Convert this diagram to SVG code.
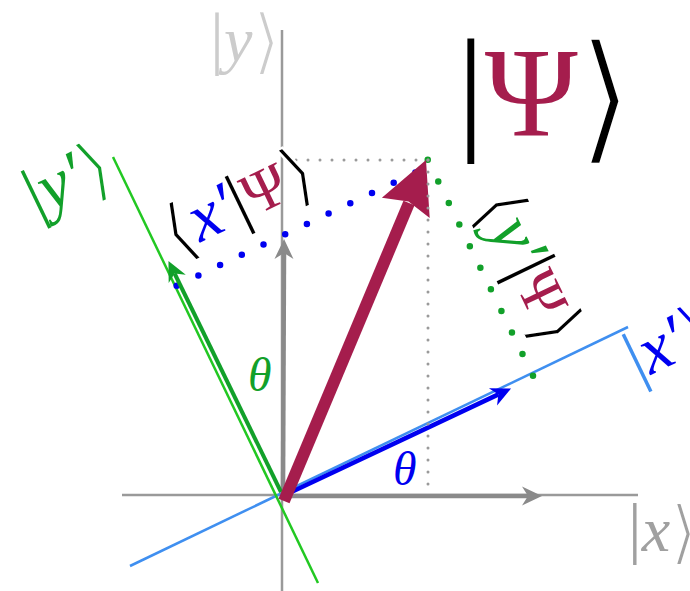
<svg xmlns="http://www.w3.org/2000/svg" width="690" height="591" viewBox="0 0 690 591">
<style>
.axis{stroke:#9a9a9a;stroke-width:2.5;fill:none}
.gvec{stroke:#8a8a8a;stroke-width:4.5;fill:none}
.dotg{stroke:#9a9a9a;stroke-width:3;stroke-linecap:round;stroke-dasharray:0 12;fill:none}
.dotb{stroke:#0000f0;stroke-width:6.5;stroke-linecap:round;stroke-dasharray:0 24.02;fill:none}
.dotgr{stroke:#12a02a;stroke-width:6.5;stroke-linecap:round;stroke-dasharray:0 24.02;fill:none}
.lab{font-family:'Liberation Serif','DejaVu Serif',serif}
.it{font-style:italic}
.brc{font-family:'DejaVu Sans',sans-serif;stroke:#fff;stroke-width:2.4}
</style>
<defs>
<marker id="ahGray" markerUnits="userSpaceOnUse" overflow="visible" orient="auto" refX="0" refY="0" markerWidth="30" markerHeight="30"><path d="M14,0 L-6,-9.5 L0,0 L-6,9.5 Z" fill="#8a8a8a"/></marker>
<marker id="ahBlue" markerUnits="userSpaceOnUse" overflow="visible" orient="auto" refX="0" refY="0" markerWidth="30" markerHeight="30"><path d="M14,0 L-6,-9.5 L0,0 L-6,9.5 Z" fill="#0000f0"/></marker>
<marker id="ahGreen" markerUnits="userSpaceOnUse" overflow="visible" orient="auto" refX="0" refY="0" markerWidth="30" markerHeight="30"><path d="M14,0 L-6,-9.5 L0,0 L-6,9.5 Z" fill="#12a02a"/></marker>
</defs>

<g id="axes">
<line class="axis" x1="122" y1="495" x2="638" y2="495"/>
<line class="axis" x1="282" y1="30" x2="282" y2="591"/>
</g>
<g id="frame-lines">
<line x1="130" y1="566" x2="628" y2="327" stroke="#3f8ff0" stroke-width="2.5"/>
<line x1="113" y1="157" x2="318" y2="583" stroke="#22c822" stroke-width="2.5"/>
</g>

<g id="connectors">
<line class="dotb" x1="176.7" y1="285.7" x2="415.4" y2="172.4"/>
<line class="dotgr" x1="533" y1="375.7" x2="427.6" y2="159.5"/>
<line class="gvec" x1="283" y1="496" x2="528" y2="496" marker-end="url(#ahGray)"/>
<line class="gvec" x1="283" y1="495" x2="284" y2="253" marker-end="url(#ahGray)"/>
<line x1="285" y1="495" x2="498.4" y2="394.4" stroke="#0000f0" stroke-width="4.5" marker-end="url(#ahBlue)"/>
<line x1="281" y1="492" x2="174.6" y2="273.5" stroke="#12a02a" stroke-width="4" marker-end="url(#ahGreen)"/>
<line x1="284" y1="501" x2="409" y2="203" stroke="#a51d4d" stroke-width="12"/>
<polygon points="426,160 381.9,197.8 408.5,201.4 429.7,218" fill="#a51d4d"/>
<line class="dotg" x1="428" y1="160" x2="284" y2="160"/>
<line class="dotg" x1="428" y1="160" x2="428" y2="496"/>
</g>

<g id="label-y">
<text class="lab" y="61" fill="#cccccc"><tspan x="210" font-size="70">|</tspan><tspan class="it" font-size="64">y</tspan><tspan class="brc" font-size="72" dy="5">⟩</tspan></text>
</g>
<g id="label-x">
<text class="lab" y="551" fill="#a0a0a0"><tspan x="628" font-size="68">|</tspan><tspan class="it" font-size="64">x</tspan><tspan class="brc" font-size="70" dy="5">⟩</tspan></text>
</g>
<g id="label-psi">
<text class="lab" y="135"><tspan x="457" font-size="138" fill="#000">|</tspan><tspan font-size="126" fill="#a51d4d">Ψ</tspan><tspan class="brc" font-size="142" dy="11" fill="#000" style="stroke-width:3.6">⟩</tspan></text>
</g>
<g id="label-yprime" transform="translate(37,217.5) rotate(-25.7)">
<text class="lab" x="0" y="0" fill="#12a02a"><tspan font-size="70">|</tspan><tspan class="it" font-size="68">y′</tspan><tspan class="brc" font-size="72" dy="5">⟩</tspan></text>
</g>
<g id="label-xprime" transform="translate(638,381) rotate(-25.7)">
<text class="lab" x="0" y="0"><tspan font-size="70" fill="#3f8ff0">|</tspan><tspan class="it" font-size="68" fill="#0000f0">x′</tspan><tspan class="brc" font-size="72" dy="5" fill="#0000f0">⟩</tspan></text>
</g>
<g id="label-xpsi" transform="translate(175,254.6) rotate(-25.7)">
<text class="lab" x="0" y="0"><tspan class="brc" font-size="72" dy="5" fill="#000">⟨</tspan><tspan class="it" font-size="68" dy="-5" fill="#0000f0">x′</tspan><tspan font-size="70" fill="#000">|</tspan><tspan font-size="60" fill="#a51d4d">Ψ</tspan><tspan class="brc" font-size="72" dy="5" fill="#000">⟩</tspan></text>
</g>
<g id="label-ypsi" transform="translate(476.4,204) rotate(64.3)">
<text class="lab" x="0" y="0"><tspan class="brc" font-size="72" dy="5" fill="#000">⟨</tspan><tspan class="it" font-size="68" dy="-5" fill="#12a02a">y′</tspan><tspan font-size="70" fill="#000">|</tspan><tspan font-size="60" fill="#a51d4d">Ψ</tspan><tspan class="brc" font-size="72" dy="5" fill="#000">⟩</tspan></text>
</g>
<g id="theta-green">
<text class="lab it" x="248" y="391" font-size="48" fill="#12a02a">θ</text>
</g>
<g id="theta-blue">
<text class="lab it" x="393" y="485" font-size="48" fill="#0000f0">θ</text>
</g>
</svg>
